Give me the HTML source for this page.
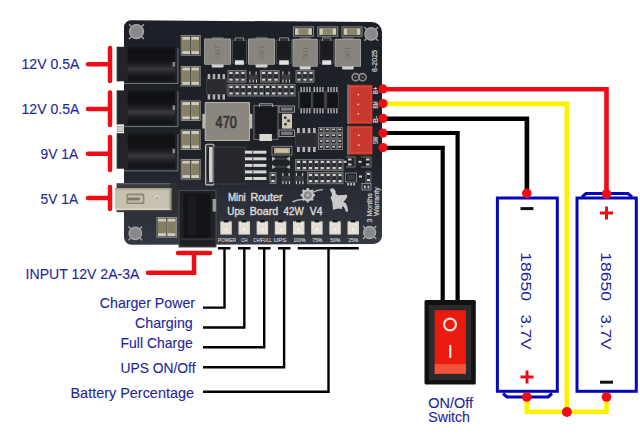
<!DOCTYPE html>
<html><head><meta charset="utf-8">
<style>
html,body{margin:0;padding:0;background:#fff;width:640px;height:443px;overflow:hidden}
svg{display:block}
text{font-family:"Liberation Sans",sans-serif}
.lbl{fill:#25259a;font-size:14.2px;stroke:#25259a;stroke-width:0.1px}
</style></head><body>
<svg width="640" height="443" viewBox="0 0 640 443">
<defs>
<linearGradient id="jackg" x1="0" y1="0" x2="0" y2="1">
<stop offset="0" stop-color="#17181b"/><stop offset="0.12" stop-color="#0f1012"/><stop offset="0.4" stop-color="#131417"/><stop offset="0.55" stop-color="#25262a"/><stop offset="0.64" stop-color="#3a3b3e"/><stop offset="0.76" stop-color="#222326"/><stop offset="0.9" stop-color="#131417"/><stop offset="1" stop-color="#16171a"/>
</linearGradient>
<linearGradient id="boardg" gradientUnits="userSpaceOnUse" x1="0" y1="20" x2="0" y2="245">
<stop offset="0" stop-color="#1d2027"/><stop offset="0.64" stop-color="#1f2229"/><stop offset="0.78" stop-color="#2a2d35"/><stop offset="1" stop-color="#343842"/>
</linearGradient>
</defs>
<rect width="640" height="443" fill="#fff"/>
<!-- left labels -->
<g class="lbl">
<text x="21.5" y="69.2" textLength="58" lengthAdjust="spacingAndGlyphs">12V 0.5A</text>
<text x="21.5" y="114.3" textLength="58" lengthAdjust="spacingAndGlyphs">12V 0.5A</text>
<text x="40.6" y="159" textLength="37.6" lengthAdjust="spacingAndGlyphs">9V 1A</text>
<text x="40.6" y="204" textLength="37.6" lengthAdjust="spacingAndGlyphs">5V 1A</text>
<text x="25.6" y="278.5" textLength="113.8" lengthAdjust="spacingAndGlyphs">INPUT 12V 2A-3A</text>
<text x="99.8" y="308.2" textLength="95.2" lengthAdjust="spacingAndGlyphs">Charger Power</text>
<text x="135" y="327.5" textLength="57.7" lengthAdjust="spacingAndGlyphs">Charging</text>
<text x="120.6" y="347.6" textLength="72.1" lengthAdjust="spacingAndGlyphs">Full Charge</text>
<text x="120.5" y="372.7" textLength="75" lengthAdjust="spacingAndGlyphs">UPS ON/Off</text>
<text x="70.5" y="398" textLength="123.5" lengthAdjust="spacingAndGlyphs">Battery Percentage</text>
<text x="428.3" y="407.6" textLength="44.7" lengthAdjust="spacingAndGlyphs">ON/Off</text>
<text x="428.3" y="421.6" textLength="41.7" lengthAdjust="spacingAndGlyphs">Switch</text>
</g>
<!-- red output markers -->
<g stroke="#ee0d16" stroke-width="4.5" stroke-linecap="round" fill="none">
<path d="M88 64.2H110M110 48V81"/>
<path d="M88 109H110M110 92.5V125"/>
<path d="M88 153.8H110M110 137V170"/>
<path d="M88 198H110M110 187V209"/>
<path d="M148 272.8H194V253M178 253H210"/>
</g>
<!-- black callout lines -->
<g stroke="#000" stroke-width="2.4" fill="none">
<path d="M218 248.3H230.5M224.5 248.3V307.6H203"/>
<path d="M238 248.3H250.5M244.3 248.3V327.5H203"/>
<path d="M258 248.3H270.5M264.2 248.3V347.3H203"/>
<path d="M278 248.3H290.5M284.1 248.3V367.2H203"/>
<path d="M297.8 248.3H358.8M328.5 248.3V391.8H203"/>
</g>
<!-- wires -->
<g fill="none" stroke-width="4.6" stroke-linejoin="miter">
<path d="M383 89.2H606.5V194" stroke="#ee0d16"/>
<path d="M383 103.9H566.8V412" stroke="#fff200"/>
<path d="M526.8 397V411.8H606.5V397" stroke="#fff200"/>
<path d="M383 118.8H526.9V193" stroke="#000"/>
<path d="M383 133H457.6V300" stroke="#000" stroke-width="4.2"/>
<path d="M383 147.8H442.7V300" stroke="#000" stroke-width="4.2"/>
</g>
<!-- batteries -->
<g fill="none" stroke="#0606b8" stroke-width="3">
<rect x="497.4" y="198" width="59.9" height="193.3"/>
<path d="M503 393.5 L507 397 H548 L552 393.5"/>
<rect x="577" y="198" width="59.3" height="193.3"/>
<path d="M582 197 L586 193.5 H628 L632 197"/>
</g>
<g fill="#ee0d16">
<circle cx="526.8" cy="193.4" r="4.8"/>
<circle cx="606.6" cy="194" r="4.8"/>
<circle cx="526.8" cy="397" r="4.8"/>
<circle cx="606.5" cy="397" r="4.8"/>
<circle cx="566.9" cy="412" r="5"/>
</g>

<g>
</g>
<g stroke-width="3" fill="none">
<path d="M520.5 208.6H533.4" stroke="#111"/>
<path d="M600 213H613M606.5 206.5V219.5" stroke="#e3101a"/>
<path d="M520.5 377H533.5M527 370.5V383.5" stroke="#e3101a"/>
<path d="M600 382.2H613" stroke="#111"/>
</g>
<g fill="#1c1ca6" font-size="15.5px" style="font-family:'Liberation Sans',sans-serif">
<text transform="translate(520.5 252.2) rotate(90)" textLength="48.8" lengthAdjust="spacingAndGlyphs">18650</text>
<text transform="translate(520.5 314.5) rotate(90)" textLength="35.3" lengthAdjust="spacingAndGlyphs">3.7V</text>
<text transform="translate(600.5 252.2) rotate(90)" textLength="48.8" lengthAdjust="spacingAndGlyphs">18650</text>
<text transform="translate(600.5 314.5) rotate(90)" textLength="35.3" lengthAdjust="spacingAndGlyphs">3.7V</text>
</g>
<!-- switch -->
<rect x="424.5" y="300" width="51.3" height="84.5" rx="1.5" fill="#111"/>
<rect x="429" y="305" width="42.3" height="75" fill="#2b2b2d"/>
<rect x="434.7" y="310.2" width="31.2" height="63.6" fill="#e91a0e"/>
<rect x="434.7" y="364.2" width="31.2" height="9.6" fill="#f0553c"/>
<circle cx="450" cy="324.5" r="5.9" fill="none" stroke="#fde3da" stroke-width="2.2"/>
<path d="M450.2 346V357" stroke="#fde3da" stroke-width="2.3" stroke-linecap="round"/>
<!-- PCB -->
<g id="pcb">
<path d="M131 20.2L372 22A10 10 0 0 1 382 32V235.5A8.5 8.5 0 0 1 373.5 244L131.5 244.8A7.5 7.5 0 0 1 124 237V27.2A7 7 0 0 1 131 20.2Z" fill="url(#boardg)"/>
<circle cx="136.5" cy="31.6" r="7" fill="#8a8a8a" stroke="#a8a8a8" stroke-width="1.3"/><circle cx="136.5" cy="31.6" r="3.9" fill="#88888a"/><path d="M131.3 26.4L129.1 24.2" stroke="#a4a4a4" stroke-width="1.4"/><path d="M131.3 36.8L129.1 39.0" stroke="#a4a4a4" stroke-width="1.4"/><path d="M141.7 26.4L143.9 24.2" stroke="#a4a4a4" stroke-width="1.4"/><path d="M141.7 36.8L143.9 39.0" stroke="#a4a4a4" stroke-width="1.4"/>
<circle cx="371.2" cy="33.9" r="6.3" fill="#8a8a8a" stroke="#a8a8a8" stroke-width="1.3"/><circle cx="371.2" cy="33.9" r="3.5" fill="#88888a"/><path d="M366.5 29.2L364.3 27.0" stroke="#a4a4a4" stroke-width="1.4"/><path d="M366.5 38.6L364.3 40.8" stroke="#a4a4a4" stroke-width="1.4"/><path d="M375.9 29.2L378.1 27.0" stroke="#a4a4a4" stroke-width="1.4"/><path d="M375.9 38.6L378.1 40.8" stroke="#a4a4a4" stroke-width="1.4"/>
<circle cx="135.3" cy="233.4" r="6.2" fill="#8a8a8a" stroke="#a8a8a8" stroke-width="1.3"/><circle cx="135.3" cy="233.4" r="3.4" fill="#88888a"/><path d="M130.6 228.7L128.5 226.6" stroke="#a4a4a4" stroke-width="1.4"/><path d="M130.6 238.1L128.5 240.2" stroke="#a4a4a4" stroke-width="1.4"/><path d="M140.0 228.7L142.1 226.6" stroke="#a4a4a4" stroke-width="1.4"/><path d="M140.0 238.1L142.1 240.2" stroke="#a4a4a4" stroke-width="1.4"/>
<circle cx="369.6" cy="232.5" r="6" fill="#8a8a8a" stroke="#a8a8a8" stroke-width="1.3"/><circle cx="369.6" cy="232.5" r="3.3" fill="#88888a"/><path d="M365.1 228.0L363.0 225.9" stroke="#a4a4a4" stroke-width="1.4"/><path d="M365.1 237.0L363.0 239.1" stroke="#a4a4a4" stroke-width="1.4"/><path d="M374.1 228.0L376.2 225.9" stroke="#a4a4a4" stroke-width="1.4"/><path d="M374.1 237.0L376.2 239.1" stroke="#a4a4a4" stroke-width="1.4"/>
<rect x="116.8" y="46.8" width="11" height="34.5" fill="#232427"/><rect x="116.8" y="46.8" width="1" height="34.5" fill="#38393d"/><rect x="127.8" y="46.8" width="47.3" height="34.5" fill="url(#jackg)"/><path d="M123.8 83.5H177.9V47.8" fill="none" stroke="#9a9a9a" stroke-width="0.7"/><rect x="172.6" y="62.0" width="2.5" height="4.5" fill="#8a8a8a"/>
<rect x="116.8" y="90.4" width="11" height="34" fill="#232427"/><rect x="116.8" y="90.4" width="1" height="34" fill="#38393d"/><rect x="127.8" y="90.4" width="47.3" height="34" fill="url(#jackg)"/><path d="M123.8 126.60000000000001H177.9V91.4" fill="none" stroke="#9a9a9a" stroke-width="0.7"/><rect x="172.6" y="105.4" width="2.5" height="4.5" fill="#8a8a8a"/>
<rect x="116.8" y="133.2" width="11" height="35.5" fill="#232427"/><rect x="116.8" y="133.2" width="1" height="35.5" fill="#38393d"/><rect x="127.8" y="133.2" width="47.3" height="35.5" fill="url(#jackg)"/><path d="M123.8 170.89999999999998H177.9V134.2" fill="none" stroke="#9a9a9a" stroke-width="0.7"/><rect x="172.6" y="148.8" width="2.5" height="4.5" fill="#8a8a8a"/>
<rect x="117" y="125.8" width="6.5" height="6.3" fill="#a8a8a6"/><rect x="118" y="127" width="4.5" height="4" fill="#d0d0cc"/>
<rect x="116.6" y="183.2" width="60" height="5.5" fill="#3c3d41"/><rect x="118" y="183.2" width="57" height="1" fill="#6a6b6e"/>
<path d="M170 183.2H177V212H170Z" fill="#2e2f33"/>
<rect x="115" y="188" width="56.3" height="22.2" fill="#c6c1b0"/>
<rect x="115" y="188" width="56.3" height="1.5" fill="#a8a392"/><rect x="115" y="208.5" width="56.3" height="1.7" fill="#dcd8c8"/><rect x="169.5" y="188" width="1.8" height="22.2" fill="#9a9584"/>
<rect x="116.6" y="210.2" width="54" height="2" fill="#3a3b3e"/>
<rect x="126.4" y="193.6" width="18" height="10.4" rx="1.5" fill="#8c8676"/><rect x="127.8" y="195.2" width="15" height="7.2" rx="1" fill="#c2bdac"/><rect x="127.8" y="197.6" width="12" height="2.8" fill="#7e7868"/>
<circle cx="157" cy="197.4" r="2.4" fill="#dcd7c6"/><circle cx="157" cy="198" r="1.6" fill="#b0ab9a"/>
<rect x="181.2" y="35.7" width="19" height="19.5" fill="none" stroke="#9a9a94" stroke-width="0.9"/><rect x="182.20" y="36.7" width="8.00" height="17.5" fill="#cfcab8"/><rect x="182.20" y="39.7" width="8.00" height="11.5" fill="#857f66"/><rect x="191.20" y="36.7" width="8.00" height="17.5" fill="#cfcab8"/><rect x="191.20" y="39.7" width="8.00" height="11.5" fill="#857f66"/>
<rect x="181.2" y="66.4" width="19" height="19.5" fill="none" stroke="#9a9a94" stroke-width="0.9"/><rect x="182.20" y="67.4" width="8.00" height="17.5" fill="#cfcab8"/><rect x="182.20" y="70.4" width="8.00" height="11.5" fill="#857f66"/><rect x="191.20" y="67.4" width="8.00" height="17.5" fill="#cfcab8"/><rect x="191.20" y="70.4" width="8.00" height="11.5" fill="#857f66"/>
<rect x="181.2" y="101" width="19" height="19.5" fill="none" stroke="#9a9a94" stroke-width="0.9"/><rect x="182.20" y="102" width="8.00" height="17.5" fill="#cfcab8"/><rect x="182.20" y="105" width="8.00" height="11.5" fill="#857f66"/><rect x="191.20" y="102" width="8.00" height="17.5" fill="#cfcab8"/><rect x="191.20" y="105" width="8.00" height="11.5" fill="#857f66"/>
<rect x="181.2" y="130" width="19" height="19.5" fill="none" stroke="#9a9a94" stroke-width="0.9"/><rect x="182.20" y="131" width="8.00" height="17.5" fill="#cfcab8"/><rect x="182.20" y="134" width="8.00" height="11.5" fill="#857f66"/><rect x="191.20" y="131" width="8.00" height="17.5" fill="#cfcab8"/><rect x="191.20" y="134" width="8.00" height="11.5" fill="#857f66"/>
<rect x="181.2" y="159.6" width="19" height="19.5" fill="none" stroke="#9a9a94" stroke-width="0.9"/><rect x="182.20" y="160.6" width="8.00" height="17.5" fill="#cfcab8"/><rect x="182.20" y="163.6" width="8.00" height="11.5" fill="#857f66"/><rect x="191.20" y="160.6" width="8.00" height="17.5" fill="#cfcab8"/><rect x="191.20" y="163.6" width="8.00" height="11.5" fill="#857f66"/>
<rect x="157" y="217.5" width="19.6" height="19.7" fill="none" stroke="#9a9a94" stroke-width="0.9"/><rect x="158.00" y="218.5" width="8.30" height="17.7" fill="#cfcab8"/><rect x="158.00" y="221.5" width="8.30" height="11.7" fill="#857f66"/><rect x="167.30" y="218.5" width="8.30" height="17.7" fill="#cfcab8"/><rect x="167.30" y="221.5" width="8.30" height="11.7" fill="#857f66"/>
<rect x="179" y="190.5" width="37" height="56.5" fill="#202125"/>
<rect x="179" y="190.5" width="37" height="56.5" fill="none" stroke="#4a4c51" stroke-width="1"/>
<rect x="183.5" y="193.5" width="27" height="45" fill="#131417"/>
<rect x="188" y="196" width="8" height="40" fill="#1a1b1e"/>
<rect x="180" y="238.5" width="35" height="1.2" fill="#3a3c40"/>
<rect x="212.6" y="199" width="3.6" height="12.6" fill="#9a9a9a"/>
<rect x="211.7" y="36.9" width="11.9" height="3" fill="#5a5a58"/><rect x="211.7" y="62.8" width="11.9" height="4.8" rx="1" fill="#d4d4ce"/><rect x="204.1" y="38.4" width="27" height="26.4" rx="1" fill="#a6a49e"/><rect x="205.0" y="39.3" width="25.2" height="24.6" fill="#88857f"/><text transform="translate(215.0 51.6) rotate(90)" font-size="7.5" fill="#6e6a64" text-anchor="middle">100</text>
<rect x="232.4" y="40.1" width="14" height="23" fill="none" stroke="#55575c" stroke-width="0.8"/><rect x="233.4" y="40.800000000000004" width="12" height="17" fill="#1b1c1f"/><path d="M235.2 41.1V37.9H243.6V41.1" fill="none" stroke="#9a9a9a" stroke-width="0.9"/><rect x="234.9" y="60.3" width="9.0" height="4.5" fill="#e2e2de"/>
<rect x="255.6" y="36.9" width="11.9" height="3" fill="#5a5a58"/><rect x="255.6" y="62.8" width="11.9" height="4.8" rx="1" fill="#d4d4ce"/><rect x="248" y="38.4" width="27" height="26.4" rx="1" fill="#a6a49e"/><rect x="248.9" y="39.3" width="25.2" height="24.6" fill="#88857f"/><text transform="translate(258.9 51.6) rotate(90)" font-size="7.5" fill="#6e6a64" text-anchor="middle">100</text>
<rect x="276.5" y="40.1" width="15" height="23" fill="none" stroke="#55575c" stroke-width="0.8"/><rect x="277.5" y="40.800000000000004" width="13" height="17" fill="#1b1c1f"/><path d="M279.5 41.1V37.9H288.5V41.1" fill="none" stroke="#9a9a9a" stroke-width="0.9"/><rect x="279.2" y="60.3" width="9.6" height="4.5" fill="#e2e2de"/>
<rect x="299.6" y="37.3" width="11.1" height="3" fill="#5a5a58"/><rect x="299.6" y="64.8" width="11.1" height="4.8" rx="1" fill="#d4d4ce"/><rect x="292.5" y="38.8" width="25.3" height="28" rx="1" fill="#a6a49e"/><rect x="293.4" y="39.699999999999996" width="23.5" height="26.2" fill="#88857f"/><text transform="translate(302.5 52.8) rotate(90)" font-size="7.5" fill="#6e6a64" text-anchor="middle">100</text>
<rect x="319.7" y="40.1" width="14" height="23" fill="none" stroke="#55575c" stroke-width="0.8"/><rect x="320.7" y="40.800000000000004" width="12" height="17" fill="#1b1c1f"/><path d="M322.5 41.1V37.9H330.9V41.1" fill="none" stroke="#9a9a9a" stroke-width="0.9"/><rect x="322.2" y="60.3" width="9.0" height="4.5" fill="#e2e2de"/>
<rect x="342.1" y="37.3" width="11.6" height="3" fill="#5a5a58"/><rect x="342.1" y="64.8" width="11.6" height="4.8" rx="1" fill="#d4d4ce"/><rect x="334.7" y="38.8" width="26.3" height="28" rx="1" fill="#a6a49e"/><rect x="335.59999999999997" y="39.699999999999996" width="24.5" height="26.2" fill="#88857f"/><text transform="translate(345.2 52.8) rotate(90)" font-size="7.5" fill="#6e6a64" text-anchor="middle">100</text>
<rect x="293.4" y="26.9" width="20" height="9.3" fill="none" stroke="#9a9a94" stroke-width="0.9"/>
<rect x="294.9" y="28.2" width="17" height="6.7" fill="#cfcab8"/>
<rect x="298.4" y="28.2" width="10" height="6.7" fill="#8a8468"/>
<rect x="317.8" y="26.9" width="20" height="9.3" fill="none" stroke="#9a9a94" stroke-width="0.9"/>
<rect x="319.3" y="28.2" width="17" height="6.7" fill="#cfcab8"/>
<rect x="322.8" y="28.2" width="10" height="6.7" fill="#8a8468"/>
<rect x="342" y="26.9" width="20" height="9.3" fill="none" stroke="#9a9a94" stroke-width="0.9"/>
<rect x="343.5" y="28.2" width="17" height="6.7" fill="#cfcab8"/>
<rect x="347" y="28.2" width="10" height="6.7" fill="#8a8468"/>
<rect x="206.5" y="79" width="19.7" height="15.5" fill="#2a2c30" stroke="#4a4c50" stroke-width="0.7"/><rect x="207.7" y="74" width="2.5" height="5" fill="#b4b4b2"/><rect x="207.7" y="94.5" width="2.5" height="5" fill="#b4b4b2"/><rect x="212.7" y="74" width="2.5" height="5" fill="#b4b4b2"/><rect x="212.7" y="94.5" width="2.5" height="5" fill="#b4b4b2"/><rect x="217.6" y="74" width="2.5" height="5" fill="#b4b4b2"/><rect x="217.6" y="94.5" width="2.5" height="5" fill="#b4b4b2"/><rect x="222.5" y="74" width="2.5" height="5" fill="#b4b4b2"/><rect x="222.5" y="94.5" width="2.5" height="5" fill="#b4b4b2"/>
<rect x="228" y="70.5" width="18.0" height="11.7" fill="none" stroke="#7e7e7c" stroke-width="0.9"/><rect x="228.8" y="71.3" width="4.4" height="10.1" fill="none" stroke="#6a6a6a" stroke-width="0.6"/><rect x="229.4" y="72.0" width="3.2" height="2.2" fill="#d2d2ce"/><rect x="229.4" y="78.5" width="3.2" height="2.2" fill="#d2d2ce"/><rect x="229.4" y="74.5" width="3.2" height="3.7" fill="#2c2d31"/><rect x="234.8" y="71.3" width="4.4" height="10.1" fill="none" stroke="#6a6a6a" stroke-width="0.6"/><rect x="235.4" y="72.0" width="3.2" height="2.2" fill="#d2d2ce"/><rect x="235.4" y="78.5" width="3.2" height="2.2" fill="#d2d2ce"/><rect x="235.4" y="74.5" width="3.2" height="3.7" fill="#2c2d31"/><rect x="240.8" y="71.3" width="4.4" height="10.1" fill="none" stroke="#6a6a6a" stroke-width="0.6"/><rect x="241.4" y="72.0" width="3.2" height="2.2" fill="#d2d2ce"/><rect x="241.4" y="78.5" width="3.2" height="2.2" fill="#d2d2ce"/><rect x="241.4" y="74.5" width="3.2" height="3.7" fill="#2c2d31"/>
<rect x="260.5" y="70.5" width="18.6" height="11.7" fill="none" stroke="#7e7e7c" stroke-width="0.9"/><rect x="261.3" y="71.3" width="4.6" height="10.1" fill="none" stroke="#6a6a6a" stroke-width="0.6"/><rect x="261.9" y="72.0" width="3.4" height="2.2" fill="#d2d2ce"/><rect x="261.9" y="78.5" width="3.4" height="2.2" fill="#d2d2ce"/><rect x="261.9" y="74.5" width="3.4" height="3.7" fill="#2c2d31"/><rect x="267.5" y="71.3" width="4.6" height="10.1" fill="none" stroke="#6a6a6a" stroke-width="0.6"/><rect x="268.1" y="72.0" width="3.4" height="2.2" fill="#d2d2ce"/><rect x="268.1" y="78.5" width="3.4" height="2.2" fill="#d2d2ce"/><rect x="268.1" y="74.5" width="3.4" height="3.7" fill="#2c2d31"/><rect x="273.7" y="71.3" width="4.6" height="10.1" fill="none" stroke="#6a6a6a" stroke-width="0.6"/><rect x="274.3" y="72.0" width="3.4" height="2.2" fill="#d2d2ce"/><rect x="274.3" y="78.5" width="3.4" height="2.2" fill="#d2d2ce"/><rect x="274.3" y="74.5" width="3.4" height="3.7" fill="#2c2d31"/>
<rect x="248.5" y="74.5" width="9" height="5" fill="#3a3b3f"/><rect x="249.3" y="79.5" width="1.2" height="3.2" fill="#c0c0bc"/><rect x="252.6" y="79.5" width="1.2" height="3.2" fill="#c0c0bc"/><rect x="255.9" y="79.5" width="1.2" height="3.2" fill="#c0c0bc"/><rect x="249.3" y="71.5" width="1.2" height="3" fill="#c0c0bc"/><rect x="255.5" y="71.5" width="1.2" height="3" fill="#c0c0bc"/>
<rect x="281.5" y="74.5" width="9" height="5" fill="#3a3b3f"/><rect x="282.3" y="79.5" width="1.2" height="3.2" fill="#c0c0bc"/><rect x="285.6" y="79.5" width="1.2" height="3.2" fill="#c0c0bc"/><rect x="288.9" y="79.5" width="1.2" height="3.2" fill="#c0c0bc"/><rect x="282.3" y="71.5" width="1.2" height="3" fill="#c0c0bc"/><rect x="288.5" y="71.5" width="1.2" height="3" fill="#c0c0bc"/>
<rect x="296" y="70.5" width="18.0" height="11.7" fill="none" stroke="#7e7e7c" stroke-width="0.9"/><rect x="296.8" y="71.3" width="4.4" height="10.1" fill="none" stroke="#6a6a6a" stroke-width="0.6"/><rect x="297.4" y="72.0" width="3.2" height="2.2" fill="#d2d2ce"/><rect x="297.4" y="78.5" width="3.2" height="2.2" fill="#d2d2ce"/><rect x="297.4" y="74.5" width="3.2" height="3.7" fill="#2c2d31"/><rect x="302.8" y="71.3" width="4.4" height="10.1" fill="none" stroke="#6a6a6a" stroke-width="0.6"/><rect x="303.4" y="72.0" width="3.2" height="2.2" fill="#d2d2ce"/><rect x="303.4" y="78.5" width="3.2" height="2.2" fill="#d2d2ce"/><rect x="303.4" y="74.5" width="3.2" height="3.7" fill="#2c2d31"/><rect x="308.8" y="71.3" width="4.4" height="10.1" fill="none" stroke="#6a6a6a" stroke-width="0.6"/><rect x="309.4" y="72.0" width="3.2" height="2.2" fill="#d2d2ce"/><rect x="309.4" y="78.5" width="3.2" height="2.2" fill="#d2d2ce"/><rect x="309.4" y="74.5" width="3.2" height="3.7" fill="#2c2d31"/>
<rect x="228" y="84.5" width="67.0" height="11.5" fill="none" stroke="#7e7e7c" stroke-width="0.9"/><rect x="228.8" y="85.3" width="4.5" height="9.9" fill="none" stroke="#6a6a6a" stroke-width="0.6"/><rect x="229.4" y="86.0" width="3.3" height="2.2" fill="#d2d2ce"/><rect x="229.4" y="92.3" width="3.3" height="2.2" fill="#d2d2ce"/><rect x="229.4" y="88.5" width="3.3" height="3.5" fill="#2c2d31"/><rect x="234.9" y="85.3" width="4.5" height="9.9" fill="none" stroke="#6a6a6a" stroke-width="0.6"/><rect x="235.5" y="86.0" width="3.3" height="2.2" fill="#d2d2ce"/><rect x="235.5" y="92.3" width="3.3" height="2.2" fill="#d2d2ce"/><rect x="235.5" y="88.5" width="3.3" height="3.5" fill="#2c2d31"/><rect x="241.0" y="85.3" width="4.5" height="9.9" fill="none" stroke="#6a6a6a" stroke-width="0.6"/><rect x="241.6" y="86.0" width="3.3" height="2.2" fill="#d2d2ce"/><rect x="241.6" y="92.3" width="3.3" height="2.2" fill="#d2d2ce"/><rect x="241.6" y="88.5" width="3.3" height="3.5" fill="#2c2d31"/><rect x="247.1" y="85.3" width="4.5" height="9.9" fill="none" stroke="#6a6a6a" stroke-width="0.6"/><rect x="247.7" y="86.0" width="3.3" height="2.2" fill="#d2d2ce"/><rect x="247.7" y="92.3" width="3.3" height="2.2" fill="#d2d2ce"/><rect x="247.7" y="88.5" width="3.3" height="3.5" fill="#2c2d31"/><rect x="253.2" y="85.3" width="4.5" height="9.9" fill="none" stroke="#6a6a6a" stroke-width="0.6"/><rect x="253.8" y="86.0" width="3.3" height="2.2" fill="#d2d2ce"/><rect x="253.8" y="92.3" width="3.3" height="2.2" fill="#d2d2ce"/><rect x="253.8" y="88.5" width="3.3" height="3.5" fill="#2c2d31"/><rect x="259.2" y="85.3" width="4.5" height="9.9" fill="none" stroke="#6a6a6a" stroke-width="0.6"/><rect x="259.8" y="86.0" width="3.3" height="2.2" fill="#d2d2ce"/><rect x="259.8" y="92.3" width="3.3" height="2.2" fill="#d2d2ce"/><rect x="259.8" y="88.5" width="3.3" height="3.5" fill="#2c2d31"/><rect x="265.3" y="85.3" width="4.5" height="9.9" fill="none" stroke="#6a6a6a" stroke-width="0.6"/><rect x="265.9" y="86.0" width="3.3" height="2.2" fill="#d2d2ce"/><rect x="265.9" y="92.3" width="3.3" height="2.2" fill="#d2d2ce"/><rect x="265.9" y="88.5" width="3.3" height="3.5" fill="#2c2d31"/><rect x="271.4" y="85.3" width="4.5" height="9.9" fill="none" stroke="#6a6a6a" stroke-width="0.6"/><rect x="272.0" y="86.0" width="3.3" height="2.2" fill="#d2d2ce"/><rect x="272.0" y="92.3" width="3.3" height="2.2" fill="#d2d2ce"/><rect x="272.0" y="88.5" width="3.3" height="3.5" fill="#2c2d31"/><rect x="277.5" y="85.3" width="4.5" height="9.9" fill="none" stroke="#6a6a6a" stroke-width="0.6"/><rect x="278.1" y="86.0" width="3.3" height="2.2" fill="#d2d2ce"/><rect x="278.1" y="92.3" width="3.3" height="2.2" fill="#d2d2ce"/><rect x="278.1" y="88.5" width="3.3" height="3.5" fill="#2c2d31"/><rect x="283.6" y="85.3" width="4.5" height="9.9" fill="none" stroke="#6a6a6a" stroke-width="0.6"/><rect x="284.2" y="86.0" width="3.3" height="2.2" fill="#d2d2ce"/><rect x="284.2" y="92.3" width="3.3" height="2.2" fill="#d2d2ce"/><rect x="284.2" y="88.5" width="3.3" height="3.5" fill="#2c2d31"/><rect x="289.7" y="85.3" width="4.5" height="9.9" fill="none" stroke="#6a6a6a" stroke-width="0.6"/><rect x="290.3" y="86.0" width="3.3" height="2.2" fill="#d2d2ce"/><rect x="290.3" y="92.3" width="3.3" height="2.2" fill="#d2d2ce"/><rect x="290.3" y="88.5" width="3.3" height="3.5" fill="#2c2d31"/>
<rect x="202.3" y="113.8" width="5" height="14.8" fill="#b8b8b2"/>
<rect x="246" y="113.8" width="6.3" height="14.8" fill="#c0c0ba"/><path d="M247 117l3.5 3.5l-3.5 3.5z" fill="#2a2a2a"/>
<rect x="204.7" y="102" width="45.3" height="39" rx="1" fill="#b6b4ac"/>
<rect x="205.7" y="103" width="43.3" height="37" fill="#8b877e"/>
<text x="215.6" y="127.8" font-size="16" fill="#36342e" stroke="#36342e" stroke-width="0.7" textLength="21.1" lengthAdjust="spacingAndGlyphs">470</text>
<rect x="254" y="105.5" width="24" height="34" fill="none" stroke="#78787a" stroke-width="0.9"/>
<rect x="255" y="107.5" width="22" height="26" fill="#18191c"/>
<path d="M259.4 107V103.8H272.6V107" fill="none" stroke="#a8a8a8" stroke-width="1"/>
<rect x="259.4" y="134" width="12.5" height="7" fill="#d8d8d0"/>
<rect x="279" y="106" width="15.5" height="6.2" fill="none" stroke="#a8a8a8" stroke-width="0.9"/><rect x="281" y="107.5" width="11.5" height="3.2" fill="#7a7a76"/>
<rect x="282" y="113.8" width="10" height="14.8" fill="#cfc8b6"/>
<rect x="284" y="116.5" width="2.5" height="2.5" fill="#3a3a3a"/><rect x="287.3" y="119.5" width="2.5" height="2.5" fill="#3a3a3a"/><rect x="284.2" y="123" width="2.5" height="2.5" fill="#3a3a3a"/>
<rect x="279" y="130" width="15.5" height="6.4" fill="none" stroke="#a8a8a8" stroke-width="0.9"/><rect x="281" y="131.5" width="11.5" height="3.4" fill="#7a7a76"/>
<rect x="205.6" y="144.3" width="8.4" height="40.6" rx="1.2" fill="#3a3b3f" stroke="#c6c6c2" stroke-width="1.1"/>
<rect x="209" y="147" width="3.6" height="35" fill="#d0d0cc"/>
<path d="M208.5 148Q206.8 164 208.5 181" fill="none" stroke="#141518" stroke-width="1.2"/>
<rect x="214" y="147" width="31" height="37" fill="#25272c" stroke="#45474c" stroke-width="0.8"/>
<rect x="245" y="150.7" width="21.4" height="3" fill="#d6d6d2"/><rect x="252" y="150.7" width="1.5" height="3" fill="#6a6a6a"/>
<rect x="245" y="157.3" width="21.4" height="3" fill="#d6d6d2"/><rect x="252" y="157.3" width="1.5" height="3" fill="#6a6a6a"/>
<rect x="245" y="163.9" width="21.4" height="3" fill="#d6d6d2"/><rect x="252" y="163.9" width="1.5" height="3" fill="#6a6a6a"/>
<rect x="245" y="170.4" width="21.4" height="3" fill="#d6d6d2"/><rect x="252" y="170.4" width="1.5" height="3" fill="#6a6a6a"/>
<rect x="245" y="177.0" width="21.4" height="3" fill="#d6d6d2"/><rect x="252" y="177.0" width="1.5" height="3" fill="#6a6a6a"/>
<rect x="272" y="146.3" width="20" height="8.7" fill="none" stroke="#8a8a88" stroke-width="0.9"/>
<rect x="274" y="147.8" width="16" height="5.7" fill="#b8a888"/><rect x="276" y="148.8" width="12" height="3.5" fill="#cdbf9c"/>
<path d="M272 156.5l4 2.2l-4 2.2zM290 156.5l-4 2.2l4 2.2zM272 164.7l4 2.2l-4 2.2zM290 164.7l-4 2.2l4 2.2z" fill="#b0b0b0"/><rect x="276.5" y="157.5" width="9" height="2.5" fill="#3a3b3f"/><rect x="276.5" y="165.7" width="9" height="2.5" fill="#3a3b3f"/>
<rect x="270" y="172.5" width="6.0" height="11" fill="none" stroke="#7e7e7c" stroke-width="0.9"/><rect x="270.8" y="173.3" width="4.4" height="9.4" fill="none" stroke="#6a6a6a" stroke-width="0.6"/><rect x="271.4" y="174.0" width="3.2" height="2.2" fill="#d2d2ce"/><rect x="271.4" y="179.8" width="3.2" height="2.2" fill="#d2d2ce"/><rect x="271.4" y="176.5" width="3.2" height="3.0" fill="#2c2d31"/>
<rect x="281.5" y="176" width="9" height="5" fill="#3a3b3f"/><rect x="282.3" y="181" width="1.2" height="3.2" fill="#c0c0bc"/><rect x="285.6" y="181" width="1.2" height="3.2" fill="#c0c0bc"/><rect x="288.9" y="181" width="1.2" height="3.2" fill="#c0c0bc"/><rect x="282.3" y="173" width="1.2" height="3" fill="#c0c0bc"/><rect x="288.5" y="173" width="1.2" height="3" fill="#c0c0bc"/>
<rect x="295" y="176" width="9" height="5" fill="#3a3b3f"/><rect x="295.8" y="181" width="1.2" height="3.2" fill="#c0c0bc"/><rect x="299.1" y="181" width="1.2" height="3.2" fill="#c0c0bc"/><rect x="302.4" y="181" width="1.2" height="3.2" fill="#c0c0bc"/><rect x="295.8" y="173" width="1.2" height="3" fill="#c0c0bc"/><rect x="302" y="173" width="1.2" height="3" fill="#c0c0bc"/>
<rect x="299.8" y="92" width="11.5" height="16.4" fill="#2a2c30" stroke="#4a4c50" stroke-width="0.7"/><rect x="300.5" y="87" width="1.4" height="5" fill="#b4b4b2"/><rect x="300.5" y="108.4" width="1.4" height="5" fill="#b4b4b2"/><rect x="303.4" y="87" width="1.4" height="5" fill="#b4b4b2"/><rect x="303.4" y="108.4" width="1.4" height="5" fill="#b4b4b2"/><rect x="306.3" y="87" width="1.4" height="5" fill="#b4b4b2"/><rect x="306.3" y="108.4" width="1.4" height="5" fill="#b4b4b2"/><rect x="309.1" y="87" width="1.4" height="5" fill="#b4b4b2"/><rect x="309.1" y="108.4" width="1.4" height="5" fill="#b4b4b2"/>
<rect x="300.3" y="92.5" width="10.5" height="15.4" fill="#131417"/>
<rect x="312.9" y="92" width="11.5" height="16.4" fill="#2a2c30" stroke="#4a4c50" stroke-width="0.7"/><rect x="313.6" y="87" width="1.4" height="5" fill="#b4b4b2"/><rect x="313.6" y="108.4" width="1.4" height="5" fill="#b4b4b2"/><rect x="316.5" y="87" width="1.4" height="5" fill="#b4b4b2"/><rect x="316.5" y="108.4" width="1.4" height="5" fill="#b4b4b2"/><rect x="319.4" y="87" width="1.4" height="5" fill="#b4b4b2"/><rect x="319.4" y="108.4" width="1.4" height="5" fill="#b4b4b2"/><rect x="322.2" y="87" width="1.4" height="5" fill="#b4b4b2"/><rect x="322.2" y="108.4" width="1.4" height="5" fill="#b4b4b2"/>
<rect x="313.4" y="92.5" width="10.5" height="15.4" fill="#131417"/>
<rect x="326.8" y="92" width="11.5" height="16.4" fill="#2a2c30" stroke="#4a4c50" stroke-width="0.7"/><rect x="327.5" y="87" width="1.4" height="5" fill="#b4b4b2"/><rect x="327.5" y="108.4" width="1.4" height="5" fill="#b4b4b2"/><rect x="330.4" y="87" width="1.4" height="5" fill="#b4b4b2"/><rect x="330.4" y="108.4" width="1.4" height="5" fill="#b4b4b2"/><rect x="333.3" y="87" width="1.4" height="5" fill="#b4b4b2"/><rect x="333.3" y="108.4" width="1.4" height="5" fill="#b4b4b2"/><rect x="336.1" y="87" width="1.4" height="5" fill="#b4b4b2"/><rect x="336.1" y="108.4" width="1.4" height="5" fill="#b4b4b2"/>
<rect x="327.3" y="92.5" width="10.5" height="15.4" fill="#131417"/>
<path d="M298.5 91V109.5M311.9 91V109.5M325.6 91V109.5" stroke="#5a5c60" stroke-width="0.7"/>
<rect x="347.3" y="84.7" width="25.3" height="39.3" rx="1" fill="#b23026"/>
<rect x="347.3" y="84.7" width="2.2" height="39.3" fill="#9a6a66"/>
<rect x="349.8" y="85.9" width="21.8" height="36.9" fill="#d84a3a"/>
<rect x="351" y="87.10000000000001" width="19.4" height="34.5" fill="#c8382c"/>
<rect x="347.3" y="125.7" width="25.3" height="29" rx="1" fill="#b23026"/>
<rect x="347.3" y="125.7" width="2.2" height="29" fill="#9a6a66"/>
<rect x="349.8" y="126.9" width="21.8" height="26.6" fill="#d84a3a"/>
<rect x="351" y="128.1" width="19.4" height="24.2" fill="#c8382c"/>
<g fill="#f6c8b8"><circle cx="358.3" cy="94.6" r="0.9"/><circle cx="358.3" cy="104.4" r="0.9"/><circle cx="358.3" cy="113.8" r="0.9"/><circle cx="358.8" cy="135.2" r="0.9"/><circle cx="358.8" cy="145.1" r="0.9"/></g>
<circle cx="355.7" cy="77.2" r="3.6" fill="none" stroke="#8c8c8c" stroke-width="1.6"/><circle cx="362.5" cy="77.2" r="3.6" fill="none" stroke="#8c8c8c" stroke-width="1.6"/><circle cx="355.7" cy="77.2" r="1.4" fill="#5a5a5a"/><circle cx="362.5" cy="77.2" r="1.4" fill="#5a5a5a"/>
<rect x="295.7" y="133" width="21.3" height="14" fill="#2a2c30" stroke="#4a4c50" stroke-width="0.7"/><rect x="297.0" y="128" width="2.7" height="5" fill="#b4b4b2"/><rect x="297.0" y="147" width="2.7" height="5" fill="#b4b4b2"/><rect x="302.4" y="128" width="2.7" height="5" fill="#b4b4b2"/><rect x="302.4" y="147" width="2.7" height="5" fill="#b4b4b2"/><rect x="307.7" y="128" width="2.7" height="5" fill="#b4b4b2"/><rect x="307.7" y="147" width="2.7" height="5" fill="#b4b4b2"/><rect x="313.0" y="128" width="2.7" height="5" fill="#b4b4b2"/><rect x="313.0" y="147" width="2.7" height="5" fill="#b4b4b2"/>
<rect x="318.6" y="127.4" width="5.2" height="4.8" fill="none" stroke="#8a8a88" stroke-width="0.8"/><rect x="319.8" y="128.6" width="2.8" height="1.6" fill="#cfcfca"/><rect x="318.6" y="133.2" width="5.2" height="4.8" fill="none" stroke="#8a8a88" stroke-width="0.8"/><rect x="319.8" y="134.4" width="2.8" height="1.6" fill="#cfcfca"/><rect x="318.6" y="139.0" width="5.2" height="4.8" fill="none" stroke="#8a8a88" stroke-width="0.8"/><rect x="319.8" y="140.2" width="2.8" height="1.6" fill="#cfcfca"/><rect x="318.6" y="144.8" width="5.2" height="4.8" fill="none" stroke="#8a8a88" stroke-width="0.8"/><rect x="319.8" y="146.0" width="2.8" height="1.6" fill="#cfcfca"/><rect x="324.8" y="127.4" width="5.2" height="4.8" fill="none" stroke="#8a8a88" stroke-width="0.8"/><rect x="326.0" y="128.6" width="2.8" height="1.6" fill="#cfcfca"/><rect x="324.8" y="133.2" width="5.2" height="4.8" fill="none" stroke="#8a8a88" stroke-width="0.8"/><rect x="326.0" y="134.4" width="2.8" height="1.6" fill="#cfcfca"/><rect x="324.8" y="139.0" width="5.2" height="4.8" fill="none" stroke="#8a8a88" stroke-width="0.8"/><rect x="326.0" y="140.2" width="2.8" height="1.6" fill="#cfcfca"/><rect x="324.8" y="144.8" width="5.2" height="4.8" fill="none" stroke="#8a8a88" stroke-width="0.8"/><rect x="326.0" y="146.0" width="2.8" height="1.6" fill="#cfcfca"/><rect x="331.0" y="127.4" width="5.2" height="4.8" fill="none" stroke="#8a8a88" stroke-width="0.8"/><rect x="332.2" y="128.6" width="2.8" height="1.6" fill="#cfcfca"/><rect x="331.0" y="133.2" width="5.2" height="4.8" fill="none" stroke="#8a8a88" stroke-width="0.8"/><rect x="332.2" y="134.4" width="2.8" height="1.6" fill="#cfcfca"/><rect x="331.0" y="139.0" width="5.2" height="4.8" fill="none" stroke="#8a8a88" stroke-width="0.8"/><rect x="332.2" y="140.2" width="2.8" height="1.6" fill="#cfcfca"/><rect x="331.0" y="144.8" width="5.2" height="4.8" fill="none" stroke="#8a8a88" stroke-width="0.8"/><rect x="332.2" y="146.0" width="2.8" height="1.6" fill="#cfcfca"/><rect x="337.2" y="127.4" width="5.2" height="4.8" fill="none" stroke="#8a8a88" stroke-width="0.8"/><rect x="338.4" y="128.6" width="2.8" height="1.6" fill="#cfcfca"/><rect x="337.2" y="133.2" width="5.2" height="4.8" fill="none" stroke="#8a8a88" stroke-width="0.8"/><rect x="338.4" y="134.4" width="2.8" height="1.6" fill="#cfcfca"/><rect x="337.2" y="139.0" width="5.2" height="4.8" fill="none" stroke="#8a8a88" stroke-width="0.8"/><rect x="338.4" y="140.2" width="2.8" height="1.6" fill="#cfcfca"/><rect x="337.2" y="144.8" width="5.2" height="4.8" fill="none" stroke="#8a8a88" stroke-width="0.8"/><rect x="338.4" y="146.0" width="2.8" height="1.6" fill="#cfcfca"/>
<rect x="295.6" y="159.4" width="47.4" height="11.2" fill="none" stroke="#7e7e7c" stroke-width="0.9"/><rect x="296.4" y="160.20000000000002" width="4.3" height="9.6" fill="none" stroke="#6a6a6a" stroke-width="0.6"/><rect x="297.0" y="160.9" width="3.1" height="2.2" fill="#d2d2ce"/><rect x="297.0" y="166.9" width="3.1" height="2.2" fill="#d2d2ce"/><rect x="297.0" y="163.4" width="3.1" height="3.2" fill="#2c2d31"/><rect x="302.3" y="160.20000000000002" width="4.3" height="9.6" fill="none" stroke="#6a6a6a" stroke-width="0.6"/><rect x="302.9" y="160.9" width="3.1" height="2.2" fill="#d2d2ce"/><rect x="302.9" y="166.9" width="3.1" height="2.2" fill="#d2d2ce"/><rect x="302.9" y="163.4" width="3.1" height="3.2" fill="#2c2d31"/><rect x="308.3" y="160.20000000000002" width="4.3" height="9.6" fill="none" stroke="#6a6a6a" stroke-width="0.6"/><rect x="308.9" y="160.9" width="3.1" height="2.2" fill="#d2d2ce"/><rect x="308.9" y="166.9" width="3.1" height="2.2" fill="#d2d2ce"/><rect x="308.9" y="163.4" width="3.1" height="3.2" fill="#2c2d31"/><rect x="314.2" y="160.20000000000002" width="4.3" height="9.6" fill="none" stroke="#6a6a6a" stroke-width="0.6"/><rect x="314.8" y="160.9" width="3.1" height="2.2" fill="#d2d2ce"/><rect x="314.8" y="166.9" width="3.1" height="2.2" fill="#d2d2ce"/><rect x="314.8" y="163.4" width="3.1" height="3.2" fill="#2c2d31"/><rect x="320.1" y="160.20000000000002" width="4.3" height="9.6" fill="none" stroke="#6a6a6a" stroke-width="0.6"/><rect x="320.7" y="160.9" width="3.1" height="2.2" fill="#d2d2ce"/><rect x="320.7" y="166.9" width="3.1" height="2.2" fill="#d2d2ce"/><rect x="320.7" y="163.4" width="3.1" height="3.2" fill="#2c2d31"/><rect x="326.1" y="160.20000000000002" width="4.3" height="9.6" fill="none" stroke="#6a6a6a" stroke-width="0.6"/><rect x="326.6" y="160.9" width="3.1" height="2.2" fill="#d2d2ce"/><rect x="326.6" y="166.9" width="3.1" height="2.2" fill="#d2d2ce"/><rect x="326.6" y="163.4" width="3.1" height="3.2" fill="#2c2d31"/><rect x="332.0" y="160.20000000000002" width="4.3" height="9.6" fill="none" stroke="#6a6a6a" stroke-width="0.6"/><rect x="332.6" y="160.9" width="3.1" height="2.2" fill="#d2d2ce"/><rect x="332.6" y="166.9" width="3.1" height="2.2" fill="#d2d2ce"/><rect x="332.6" y="163.4" width="3.1" height="3.2" fill="#2c2d31"/><rect x="337.9" y="160.20000000000002" width="4.3" height="9.6" fill="none" stroke="#6a6a6a" stroke-width="0.6"/><rect x="338.5" y="160.9" width="3.1" height="2.2" fill="#d2d2ce"/><rect x="338.5" y="166.9" width="3.1" height="2.2" fill="#d2d2ce"/><rect x="338.5" y="163.4" width="3.1" height="3.2" fill="#2c2d31"/>
<rect x="307.5" y="172.5" width="35.5" height="11.2" fill="none" stroke="#7e7e7c" stroke-width="0.9"/><rect x="308.3" y="173.3" width="4.3" height="9.6" fill="none" stroke="#6a6a6a" stroke-width="0.6"/><rect x="308.9" y="174.0" width="3.1" height="2.2" fill="#d2d2ce"/><rect x="308.9" y="180.0" width="3.1" height="2.2" fill="#d2d2ce"/><rect x="308.9" y="176.5" width="3.1" height="3.2" fill="#2c2d31"/><rect x="314.2" y="173.3" width="4.3" height="9.6" fill="none" stroke="#6a6a6a" stroke-width="0.6"/><rect x="314.8" y="174.0" width="3.1" height="2.2" fill="#d2d2ce"/><rect x="314.8" y="180.0" width="3.1" height="2.2" fill="#d2d2ce"/><rect x="314.8" y="176.5" width="3.1" height="3.2" fill="#2c2d31"/><rect x="320.1" y="173.3" width="4.3" height="9.6" fill="none" stroke="#6a6a6a" stroke-width="0.6"/><rect x="320.7" y="174.0" width="3.1" height="2.2" fill="#d2d2ce"/><rect x="320.7" y="180.0" width="3.1" height="2.2" fill="#d2d2ce"/><rect x="320.7" y="176.5" width="3.1" height="3.2" fill="#2c2d31"/><rect x="326.1" y="173.3" width="4.3" height="9.6" fill="none" stroke="#6a6a6a" stroke-width="0.6"/><rect x="326.7" y="174.0" width="3.1" height="2.2" fill="#d2d2ce"/><rect x="326.7" y="180.0" width="3.1" height="2.2" fill="#d2d2ce"/><rect x="326.7" y="176.5" width="3.1" height="3.2" fill="#2c2d31"/><rect x="332.0" y="173.3" width="4.3" height="9.6" fill="none" stroke="#6a6a6a" stroke-width="0.6"/><rect x="332.6" y="174.0" width="3.1" height="2.2" fill="#d2d2ce"/><rect x="332.6" y="180.0" width="3.1" height="2.2" fill="#d2d2ce"/><rect x="332.6" y="176.5" width="3.1" height="3.2" fill="#2c2d31"/><rect x="337.9" y="173.3" width="4.3" height="9.6" fill="none" stroke="#6a6a6a" stroke-width="0.6"/><rect x="338.5" y="174.0" width="3.1" height="2.2" fill="#d2d2ce"/><rect x="338.5" y="180.0" width="3.1" height="2.2" fill="#d2d2ce"/><rect x="338.5" y="176.5" width="3.1" height="3.2" fill="#2c2d31"/>
<rect x="219.10000000000002" y="218.9" width="13.9" height="16.9" fill="#34363b"/><rect x="220.3" y="221.4" width="11.5" height="13.2" fill="#d9d8d0"/><rect x="221.5" y="222.6" width="9.1" height="10.799999999999999" fill="#e4e2da"/><rect x="223.8" y="219.9" width="4.6" height="2.5" fill="#17181b"/><circle cx="226.05" cy="228.0" r="3.2" fill="#e8d8cc"/><circle cx="226.05" cy="229.3" r="1.6" fill="#f6f0ea"/>
<rect x="237.27000000000004" y="218.9" width="13.9" height="16.9" fill="#34363b"/><rect x="238.47000000000003" y="221.4" width="11.5" height="13.2" fill="#d9d8d0"/><rect x="239.67000000000002" y="222.6" width="9.1" height="10.799999999999999" fill="#e4e2da"/><rect x="241.9" y="219.9" width="4.6" height="2.5" fill="#17181b"/><circle cx="244.22000000000003" cy="228.0" r="3.2" fill="#e8d8cc"/><circle cx="244.22000000000003" cy="229.3" r="1.6" fill="#f6f0ea"/>
<rect x="255.44" y="218.9" width="13.9" height="16.9" fill="#34363b"/><rect x="256.64" y="221.4" width="11.5" height="13.2" fill="#d9d8d0"/><rect x="257.84" y="222.6" width="9.1" height="10.799999999999999" fill="#e4e2da"/><rect x="260.1" y="219.9" width="4.6" height="2.5" fill="#17181b"/><circle cx="262.39" cy="228.0" r="3.2" fill="#e8d8cc"/><circle cx="262.39" cy="229.3" r="1.6" fill="#f6f0ea"/>
<rect x="273.61" y="218.9" width="13.9" height="16.9" fill="#34363b"/><rect x="274.81" y="221.4" width="11.5" height="13.2" fill="#d9d8d0"/><rect x="276.01" y="222.6" width="9.1" height="10.799999999999999" fill="#e4e2da"/><rect x="278.3" y="219.9" width="4.6" height="2.5" fill="#17181b"/><circle cx="280.56" cy="228.0" r="3.2" fill="#e8d8cc"/><circle cx="280.56" cy="229.3" r="1.6" fill="#f6f0ea"/>
<rect x="291.78000000000003" y="218.9" width="13.9" height="16.9" fill="#34363b"/><rect x="292.98" y="221.4" width="11.5" height="13.2" fill="#d9d8d0"/><rect x="294.18" y="222.6" width="9.1" height="10.799999999999999" fill="#e4e2da"/><rect x="296.4" y="219.9" width="4.6" height="2.5" fill="#17181b"/><circle cx="298.73" cy="228.0" r="3.2" fill="#e8d8cc"/><circle cx="298.73" cy="229.3" r="1.6" fill="#f6f0ea"/>
<rect x="309.95000000000005" y="218.9" width="13.9" height="16.9" fill="#34363b"/><rect x="311.15000000000003" y="221.4" width="11.5" height="13.2" fill="#d9d8d0"/><rect x="312.35" y="222.6" width="9.1" height="10.799999999999999" fill="#e4e2da"/><rect x="314.6" y="219.9" width="4.6" height="2.5" fill="#17181b"/><circle cx="316.90000000000003" cy="228.0" r="3.2" fill="#e8d8cc"/><circle cx="316.90000000000003" cy="229.3" r="1.6" fill="#f6f0ea"/>
<rect x="328.12000000000006" y="218.9" width="13.9" height="16.9" fill="#34363b"/><rect x="329.32000000000005" y="221.4" width="11.5" height="13.2" fill="#d9d8d0"/><rect x="330.52000000000004" y="222.6" width="9.1" height="10.799999999999999" fill="#e4e2da"/><rect x="332.8" y="219.9" width="4.6" height="2.5" fill="#17181b"/><circle cx="335.07000000000005" cy="228.0" r="3.2" fill="#e8d8cc"/><circle cx="335.07000000000005" cy="229.3" r="1.6" fill="#f6f0ea"/>
<rect x="346.29" y="218.9" width="13.9" height="16.9" fill="#34363b"/><rect x="347.49" y="221.4" width="11.5" height="13.2" fill="#d9d8d0"/><rect x="348.69" y="222.6" width="9.1" height="10.799999999999999" fill="#e4e2da"/><rect x="350.9" y="219.9" width="4.6" height="2.5" fill="#17181b"/><circle cx="353.24" cy="228.0" r="3.2" fill="#e8d8cc"/><circle cx="353.24" cy="229.3" r="1.6" fill="#f6f0ea"/>
<g fill="#d6d6d6" font-size="10" stroke="#d6d6d6" stroke-width="0.45" lengthAdjust="spacingAndGlyphs">
<text x="227.9" y="201" textLength="17.9" lengthAdjust="spacingAndGlyphs">Mini</text>
<text x="250.4" y="201" textLength="32.2" lengthAdjust="spacingAndGlyphs">Router</text>
<text x="227.3" y="214.6" textLength="17.5" lengthAdjust="spacingAndGlyphs">Ups</text>
<text x="249.8" y="214.6" textLength="28.3" lengthAdjust="spacingAndGlyphs">Board</text>
<text x="283.6" y="214.6" textLength="20.1" lengthAdjust="spacingAndGlyphs">42W</text>
<text x="309.8" y="214.6" textLength="12.7" lengthAdjust="spacingAndGlyphs">V4</text>
</g>
<g fill="#c4c4c4" font-size="5.2" stroke="#c4c4c4" stroke-width="0.2"><text x="217.7" y="241.8" textLength="18.3" lengthAdjust="spacingAndGlyphs">POWER</text><text x="241" y="241.8" textLength="6.5" lengthAdjust="spacingAndGlyphs">CH</text><text x="253.2" y="241.8" textLength="18.6" lengthAdjust="spacingAndGlyphs">CH/FULL</text><text x="273.8" y="241.8" textLength="12.5" lengthAdjust="spacingAndGlyphs">UPS</text><text x="293.4" y="241.8" textLength="12" lengthAdjust="spacingAndGlyphs">100%</text><text x="312.3" y="241.8" textLength="10" lengthAdjust="spacingAndGlyphs">75%</text><text x="330.2" y="241.8" textLength="10" lengthAdjust="spacingAndGlyphs">50%</text><text x="348.3" y="241.8" textLength="10" lengthAdjust="spacingAndGlyphs">25%</text></g>
<g fill="#c8c8c8" font-size="7"><text transform="translate(376.6 72) rotate(-90)" textLength="22" lengthAdjust="spacingAndGlyphs" stroke="#c8c8c8" stroke-width="0.25">8-2025</text>
<text transform="translate(372 222.5) rotate(-90)" textLength="29.3" lengthAdjust="spacingAndGlyphs" stroke="#c8c8c8" stroke-width="0.25">3 Months</text><text transform="translate(379.3 215.9) rotate(-90)" textLength="28.6" lengthAdjust="spacingAndGlyphs" stroke="#c8c8c8" stroke-width="0.25">Warranty</text>
<path d="M346 157H355V167H346" fill="none" stroke="#8a8a8a" stroke-width="0.8"/><rect x="348" y="158.5" width="3.5" height="2" fill="#d0d0d0"/><rect x="348" y="163.5" width="3.5" height="2" fill="#d0d0d0"/><rect x="343.5" y="160.8" width="3" height="2" fill="#d0d0d0"/>
<path d="M361 157H371V167H361" fill="none" stroke="#8a8a8a" stroke-width="0.8"/><rect x="366" y="158.5" width="3.5" height="2" fill="#d0d0d0"/><rect x="366" y="163.5" width="3.5" height="2" fill="#d0d0d0"/><rect x="358.5" y="160.8" width="3" height="2" fill="#d0d0d0"/>
<rect x="345.5" y="173" width="11" height="9" fill="none" stroke="#8a8a8a" stroke-width="0.8"/><rect x="347.5" y="175" width="7" height="5" fill="#3a3b3f"/><rect x="347.3" y="183" width="1.6" height="2.5" fill="#d0d0d0"/><rect x="350.3" y="183" width="1.6" height="2.5" fill="#d0d0d0"/><rect x="353.3" y="183" width="1.6" height="2.5" fill="#d0d0d0"/>
<rect x="366" y="172" width="5" height="10" fill="none" stroke="#8a8a8a" stroke-width="0.7"/><rect x="367" y="173" width="3" height="2" fill="#d0d0d0"/><rect x="367" y="179" width="3" height="2" fill="#d0d0d0"/><rect x="359" y="175.5" width="3" height="2" fill="#d0d0d0"/>
<rect x="362" y="183.5" width="9" height="6.5" fill="none" stroke="#a0a0a0" stroke-width="0.8"/><rect x="364" y="185.5" width="1.8" height="3" fill="#c0c0c0"/><rect x="367.5" y="185.5" width="1.8" height="3" fill="#c0c0c0"/>
<g font-size="6.6" font-weight="bold" fill="#d4d4d4"><text transform="translate(378.2 94) rotate(-90)" textLength="7.2" lengthAdjust="spacingAndGlyphs">B+</text><text transform="translate(378.2 108.6) rotate(-90)" textLength="7.3" lengthAdjust="spacingAndGlyphs">BM</text><text transform="translate(378.2 123.1) rotate(-90)" textLength="7.5" lengthAdjust="spacingAndGlyphs">B-</text><text transform="translate(378.2 144) rotate(-90)" textLength="7.5" lengthAdjust="spacingAndGlyphs">SW</text></g></g>
<path d="M329.7 189.4L333 188L335.8 191.2L335.5 193.4L338 195.2L346.7 194.8L347.4 196.7L345.2 199.9L343.4 201.7L346 203.5L347.4 207.1L348.1 211.5L346 211.8L344.5 207.9L342.7 205.7L341.6 209.3L338.7 208.6L333 209.7L332.2 201.4L330.4 197.4L332.2 195.6L331.5 192.7Z" fill="#cacaca"/>
<path d="M313.27 193.98L315.02 194.11L315.02 196.29L313.27 196.42L312.53 198.20L313.68 199.53L312.13 201.08L310.80 199.93L309.02 200.67L308.89 202.42L306.71 202.42L306.58 200.67L304.80 199.93L303.47 201.08L301.92 199.53L303.07 198.20L302.33 196.42L300.58 196.29L300.58 194.11L302.33 193.98L303.07 192.20L301.92 190.87L303.47 189.32L304.80 190.47L306.58 189.73L306.71 187.98L308.89 187.98L309.02 189.73L310.80 190.47L312.13 189.32L313.68 190.87L312.53 192.20Z" fill="#c4c4c4"/><circle cx="307.8" cy="195.2" r="6" fill="#c4c4c4"/><circle cx="307.8" cy="195.2" r="4" fill="#8e8e8e"/><circle cx="307.8" cy="195.2" r="1.1" fill="#d0d0d0"/>
<path d="M292.5 201.8Q298 199.3 302.5 199.6M313 192.3Q317.5 189.6 322.8 189.7" fill="none" stroke="#c4c4c4" stroke-width="1.3"/>
<g fill="#ee0d16"><circle cx="383" cy="88.9" r="4.6"/><circle cx="383" cy="103.6" r="4.6"/><circle cx="383" cy="118.4" r="4.6"/><circle cx="383" cy="133" r="4.6"/><circle cx="383" cy="147.6" r="4.6"/></g>
</g>
</svg>
</body></html>
